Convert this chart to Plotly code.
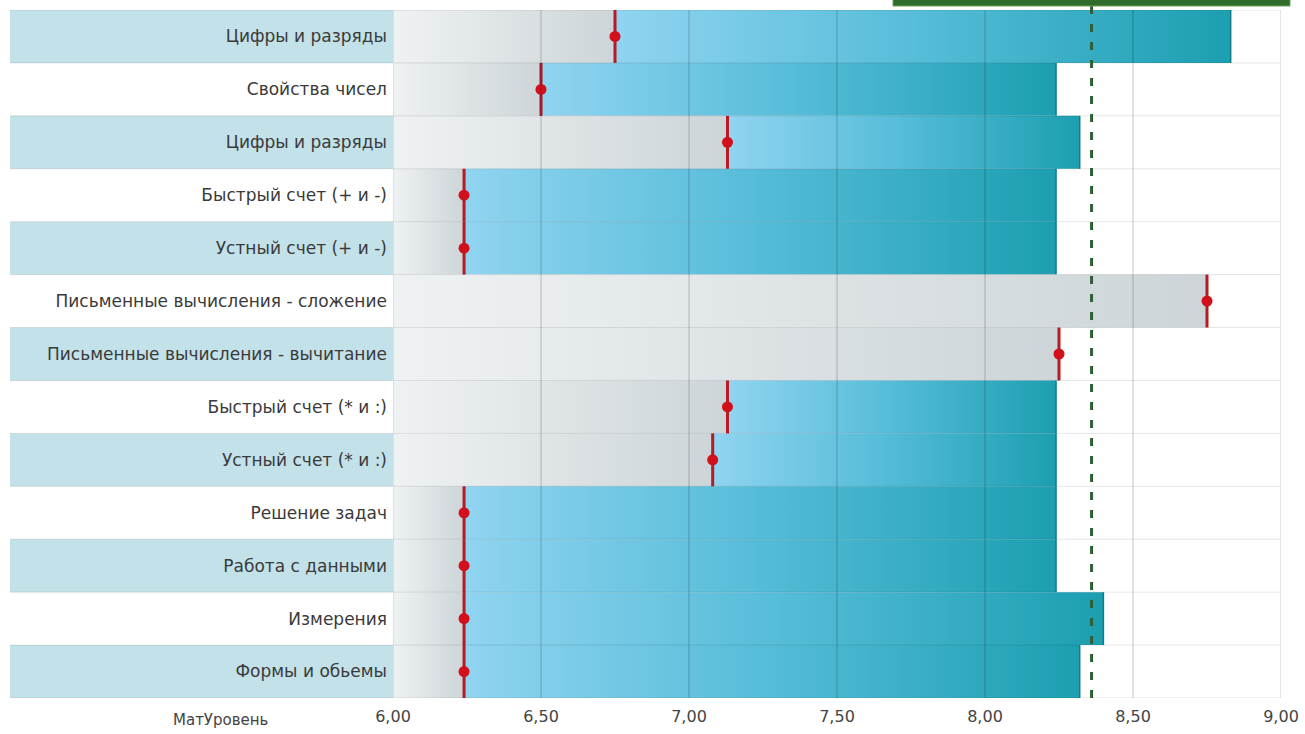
import plotly.graph_objects as go

# ---- data ----
labels = ["Цифры и разряды", "Свойства чисел", "Цифры и разряды",
          "Быстрый счет (+ и -)", "Устный счет (+ и -)",
          "Письменные вычисления - сложение", "Письменные вычисления - вычитание",
          "Быстрый счет (* и :)", "Устный счет (* и :)", "Решение задач",
          "Работа с данными", "Измерения", "Формы и обьемы"]
required = [6.75, 6.50, 7.13, 6.24, 6.24, 8.75, 8.25, 7.13, 7.08, 6.24, 6.24, 6.24, 6.24]
results = [8.83, 8.24, 8.32, 8.24, 8.24, 8.75, 8.25, 8.24, 8.24, 8.24, 8.24, 8.40, 8.32]
average_level = 8.36
axis_min, axis_max = 6.0, 9.0
x_ticks = [6.0, 6.5, 7.0, 7.5, 8.0, 8.5, 9.0]
axis_title = "МатУровень"

W, H = 1305, 734
ML, MR, MT, MB = 0, 24, 10, 36
plot_left_px = 393
paper_w = W - ML - MR
paper_h = H - MT - MB
x_dom0 = plot_left_px / paper_w

FONT = "DejaVu Sans"
grey_scale = [[0, "#eff2f3"], [1, "#cdd5d8"]]
blue_scale = [[0, "#90d4f0"], [0.5, "#55bcd8"], [1, "#1c9fb0"]]

fig = go.Figure()
n = len(labels)

for i in range(n):
    y0, y1 = i - 0.5, i + 0.5
    m, r = required[i], results[i]
    # grey segment up to required level
    fig.add_trace(go.Scatter(
        x=[axis_min, m, m, axis_min, axis_min], y=[y0, y0, y1, y1, y0],
        mode="lines", fill="toself", line=dict(width=0),
        fillgradient=dict(type="horizontal", colorscale=grey_scale),
        hoverinfo="skip", showlegend=False))
    if r > m:
        fig.add_trace(go.Scatter(
            x=[m, r, r, m, m], y=[y0, y0, y1, y1, y0],
            mode="lines", fill="toself", line=dict(width=0),
            fillgradient=dict(type="horizontal", colorscale=blue_scale),
            hoverinfo="skip", showlegend=False))
        # dark right edge of the bar
        fig.add_trace(go.Scatter(
            x=[r, r], y=[y0, y1], mode="lines",
            line=dict(color="#137b88", width=1.5),
            hoverinfo="skip", showlegend=False))

shapes = []
# label-area bands
for i in range(n):
    if i % 2 == 0:
        shapes.append(dict(type="rect", xref="paper", yref="y", x0=10 / paper_w, x1=x_dom0,
                           y0=i - 0.5, y1=i + 0.5, fillcolor="#c3e1e9",
                           line=dict(width=0), layer="below"))
# horizontal row lines
for i in range(n + 1):
    shapes.append(dict(type="line", xref="paper", yref="y", x0=10 / paper_w, x1=1,
                       y0=i - 0.5, y1=i - 0.5,
                       line=dict(color="rgba(0,0,0,0.10)", width=1), layer="above"))
# vertical grid lines
for t in x_ticks:
    edge = t in (axis_min, axis_max)
    shapes.append(dict(type="line", xref="x", yref="paper", x0=t, x1=t, y0=0, y1=1,
                       line=dict(color="rgba(0,0,0,0.22)" if not edge else "#c8cccd",
                                 width=1), layer="above"))
# average level dashed line
shapes.append(dict(type="line", xref="x", yref="paper", x0=average_level, x1=average_level,
                   y0=0, y1=1.01, line=dict(color="#2e5f36", width=3, dash="8px,10px"),
                   layer="above"))
# green label box (cut off at the top)
shapes.append(dict(type="rect", xref="paper", yref="paper",
                   x0=893 / paper_w, x1=1290 / paper_w, y0=1 + 4 / paper_h, y1=1.06,
                   fillcolor="#2f6c2b", line=dict(color="#6aa35a", width=1), layer="above"))

# required-level markers
vx, vy = [], []
for i, m in enumerate(required):
    vx += [m, m, None]
    vy += [i - 0.5, i + 0.5, None]
fig.add_trace(go.Scatter(x=vx, y=vy, mode="lines",
                         line=dict(color="#b41b24", width=3),
                         hoverinfo="skip", showlegend=False))
fig.add_trace(go.Scatter(x=required, y=list(range(n)), mode="markers",
                         marker=dict(color="#d2101c", size=11),
                         hoverinfo="skip", showlegend=False))

fig.update_layout(
    width=W, height=H,
    margin=dict(l=ML, r=MR, t=MT, b=MB, autoexpand=False),
    paper_bgcolor="white", plot_bgcolor="white",
    separators=", ",
    shapes=shapes,
    font=dict(family=FONT, size=15, color="#3a3a3a"),
    xaxis=dict(domain=[x_dom0, 1], range=[axis_min, axis_max], tickvals=x_ticks,
               tickformat=".2f", showgrid=False, zeroline=False, showline=False,
               ticks="", ticklabelstandoff=7, automargin=False,
               tickfont=dict(family=FONT, size=16, color="#444444")),
    yaxis=dict(range=[n - 0.5, -0.5], tickvals=list(range(n)), ticktext=labels,
               showgrid=False, zeroline=False, showline=False, ticks="",
               ticklabelstandoff=5, automargin=False,
               tickfont=dict(family=FONT, size=17, color="#3a3a3a")),
    annotations=[dict(text=axis_title, xref="paper", yref="paper", x=270 / paper_w, y=0,
                      yshift=-22, xanchor="right", yanchor="middle", showarrow=False,
                      font=dict(family=FONT, size=15, color="#444444"))],
)

fig.write_html("out.html", config={"displayModeBar": False},
               post_script="document.body.style.margin='0';document.body.style.padding='0';")
